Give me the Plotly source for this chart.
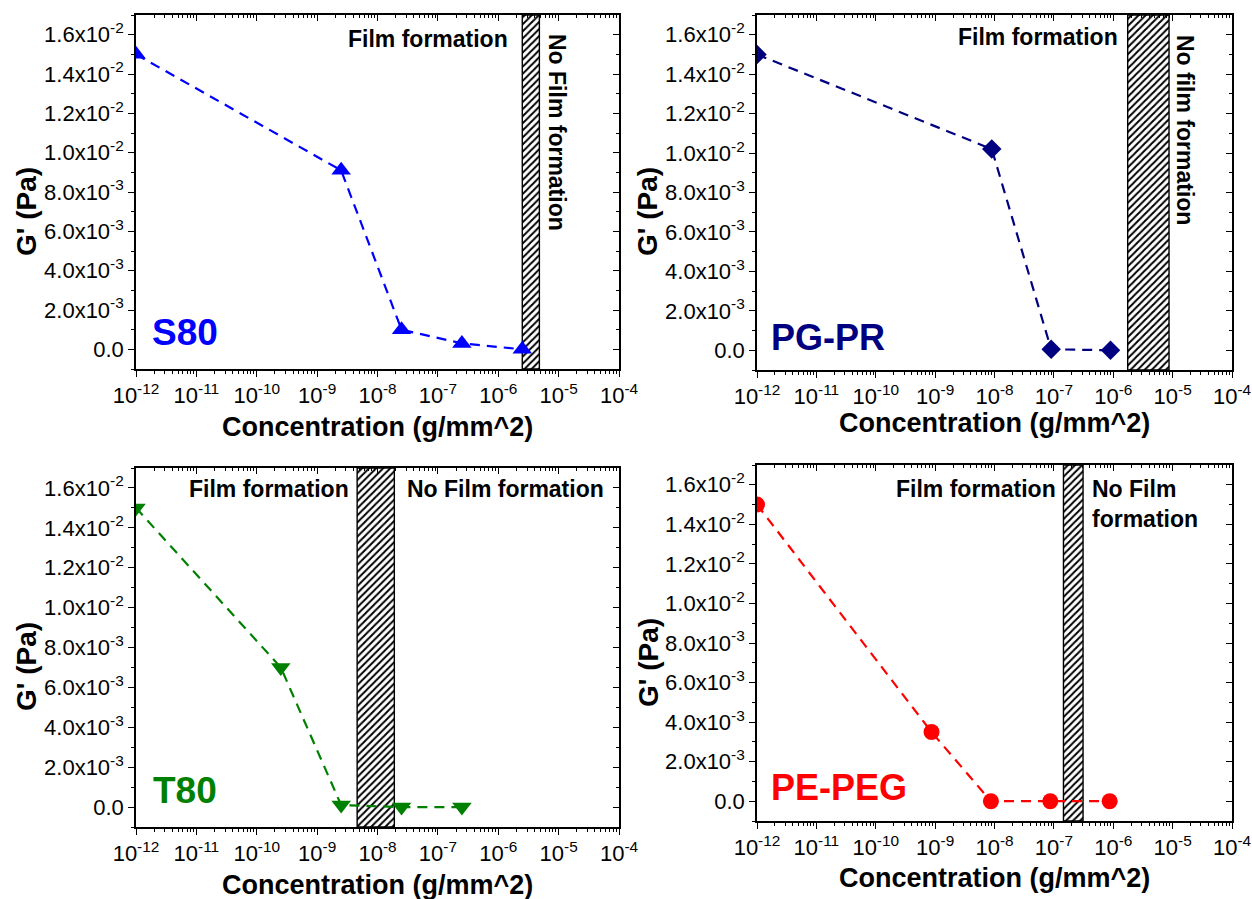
import plotly.graph_objects as go

W, H = 1252, 899

# ---------------- data ----------------
s80_x = [1e-12, 2.5e-9, 2.5e-8, 2.5e-7, 2.5e-6]
s80_y = [0.015, 0.0091, 0.0010, 0.0003, 0.0]
s80_band = [2.5e-6, 4.8e-6]

pgpr_x = [1e-12, 9e-9, 9e-8, 9e-7]
pgpr_y = [0.015, 0.0102, 0.00005, 0.0]
pgpr_band = [1.75e-6, 8.7e-6]

t80_x = [1e-12, 2.5e-10, 2.5e-9, 2.5e-8, 2.5e-7]
t80_y = [0.015, 0.0070, 0.0001, 0.0, 0.0]
t80_band = [4.6e-9, 1.9e-8]

peg_x = [1e-12, 8.7e-10, 8.7e-9, 8.7e-8, 8.7e-7]
peg_y = [0.015, 0.0035, 0.0, 0.0, 0.0]
peg_band = [1.45e-7, 3.1e-7]

y_tickvals = [0, 0.002, 0.004, 0.006, 0.008, 0.010, 0.012, 0.014, 0.016]
y_ticktext = ["0.0", "2.0x10<sup>-3</sup>", "4.0x10<sup>-3</sup>", "6.0x10<sup>-3</sup>",
              "8.0x10<sup>-3</sup>", "1.0x10<sup>-2</sup>", "1.2x10<sup>-2</sup>",
              "1.4x10<sup>-2</sup>", "1.6x10<sup>-2</sup>"]
x_exponents = [-12, -11, -10, -9, -8, -7, -6, -5, -4]
x_tickvals = [10.0 ** e for e in x_exponents]
x_ticktext = ["10<sup>%d</sup>" % e for e in x_exponents]
y_range = [-0.001, 0.017]
x_range = [-12, -4]

FONT = "Liberation Sans, Arial, sans-serif"

# panel pixel boxes: x0, x1, ytop, ybottom
boxes = [(136, 619, 15, 369), (757, 1232, 15, 370), (136, 619, 468, 827), (757, 1232, 465, 821)]

panels = [
    dict(x=s80_x, y=s80_y, band=s80_band, color="#0000FF", symbol="triangle-up", size=17),
    dict(x=pgpr_x, y=pgpr_y, band=pgpr_band, color="#000080", symbol="diamond", size=15),
    dict(x=t80_x, y=t80_y, band=t80_band, color="#008000", symbol="triangle-down", size=17),
    dict(x=peg_x, y=peg_y, band=peg_band, color="#FF0000", symbol="circle", size=16),
]

fig = go.Figure()
layout = dict(template="none", width=W, height=H, margin=dict(l=0, r=0, t=0, b=0, autoexpand=False),
              paper_bgcolor="white", plot_bgcolor="white", showlegend=False,
              font=dict(family=FONT, color="black", size=22))

def px(x):
    return x / W

def py(y):
    return 1 - y / H

for i, (p, b) in enumerate(zip(panels, boxes)):
    n = i + 1
    m = i + 5
    xd = [px(b[0]), px(b[1])]
    yd = [py(b[3]), py(b[2])]
    xa = "x" if n == 1 else "x%d" % n
    ya = "y" if n == 1 else "y%d" % n
    common_x = dict(type="log", range=x_range, domain=xd, showgrid=False, zeroline=False,
                    showline=True, linecolor="black", linewidth=1.6, automargin=False)
    common_y = dict(range=y_range, domain=yd, showgrid=False, zeroline=False,
                    showline=True, linecolor="black", linewidth=1.6, automargin=False)
    layout["xaxis%d" % n] = dict(common_x, anchor=ya, tickvals=x_tickvals, ticktext=x_ticktext,
                                 ticks="outside", ticklen=6, tickwidth=1.4, tickcolor="black",
                                 tickfont=dict(size=22, family=FONT),
                                 minor=dict(ticks="outside", ticklen=3, tickwidth=1, tickcolor="black", dtick="D1"))
    layout["yaxis%d" % n] = dict(common_y, anchor=xa, tickvals=y_tickvals, ticktext=y_ticktext,
                                 ticks="outside", ticklen=6, tickwidth=1.4, tickcolor="black",
                                 tickfont=dict(size=22, family=FONT),
                                 minor=dict(ticks="outside", ticklen=3, tickwidth=1, tickcolor="black", dtick=0.001))
    # mirrored axes with inside ticks
    layout["xaxis%d" % m] = dict(common_x, overlaying=xa, anchor=ya, side="top",
                                 tickvals=x_tickvals, showticklabels=False,
                                 ticks="inside", ticklen=6, tickwidth=1.4, tickcolor="black",
                                 minor=dict(ticks="inside", ticklen=3, tickwidth=1, tickcolor="black", dtick="D1"))
    layout["yaxis%d" % m] = dict(common_y, overlaying=ya, anchor=xa, side="right",
                                 tickvals=y_tickvals, showticklabels=False,
                                 ticks="inside", ticklen=6, tickwidth=1.4, tickcolor="black",
                                 minor=dict(ticks="inside", ticklen=3, tickwidth=1, tickcolor="black", dtick=0.001))
    fig.add_trace(go.Scatter(x=[], y=[], xaxis="x%d" % m, yaxis=ya, hoverinfo="skip"))
    fig.add_trace(go.Scatter(x=[], y=[], xaxis=xa, yaxis="y%d" % m, hoverinfo="skip"))

    # hatched band
    b0, b1 = p["band"]
    fig.add_trace(go.Scatter(
        x=[b0, b1, b1, b0, b0], y=[y_range[0], y_range[0], y_range[1], y_range[1], y_range[0]],
        xaxis=xa, yaxis=ya, mode="lines", fill="toself", fillcolor="white",
        fillpattern=dict(shape="/", fgcolor="black", bgcolor="white", size=5, solidity=0.4),
        line=dict(color="black", width=1.4), hoverinfo="skip"))
    # data
    fig.add_trace(go.Scatter(
        x=p["x"], y=p["y"], xaxis=xa, yaxis=ya, mode="lines+markers",
        line=dict(color=p["color"], width=2.2, dash="10px,7px"),
        marker=dict(symbol=p["symbol"], size=p["size"], color=p["color"], line=dict(width=0))))

fig.update_layout(**layout)

ann = []
def add(text, x, y, xanchor="center", size=22, color="black", angle=0, bold=True, align="center"):
    ann.append(dict(text=("<b>%s</b>" % text) if bold else text, x=px(x), y=py(y),
                    xref="paper", yref="paper", xanchor=xanchor, yanchor="middle",
                    showarrow=False, textangle=angle, align=align,
                    font=dict(family=FONT, size=size, color=color)))

# axis titles
for (cx, cy) in [(377.5, 427), (994.5, 423), (377.5, 885), (994.5, 878)]:
    add("Concentration (g/mm^2)", cx, cy, size=27)
for (cx, cy) in [(26, 212), (648, 211), (26, 667), (648, 662)]:
    add("G' (Pa)", cx, cy, size=28, angle=-90)

# panel 1
add("Film formation", 510, 39, xanchor="right", size=23)
add("No Film formation", 557, 132, angle=90, size=23)
add("S80", 185, 332, size=37, color="#0000FF")
# panel 2
add("Film formation", 1120, 37, xanchor="right", size=23)
add("No film formation", 1185, 130, angle=90, size=23)
add("PG-PR", 828, 337, size=36, color="#000080")
# panel 3
add("Film formation", 351, 489, xanchor="right", size=23)
add("No Film formation", 405, 489, xanchor="left", size=23)
add("T80", 184.5, 790, size=37, color="#008000")
# panel 4
add("Film formation", 1058, 489, xanchor="right", size=23)
add("No Film<br>formation", 1090, 504, xanchor="left", align="left", size=23)
add("PE-PEG", 839, 787, size=36, color="#FF0000")

fig.update_layout(annotations=ann)
fig.write_html("out.html")
